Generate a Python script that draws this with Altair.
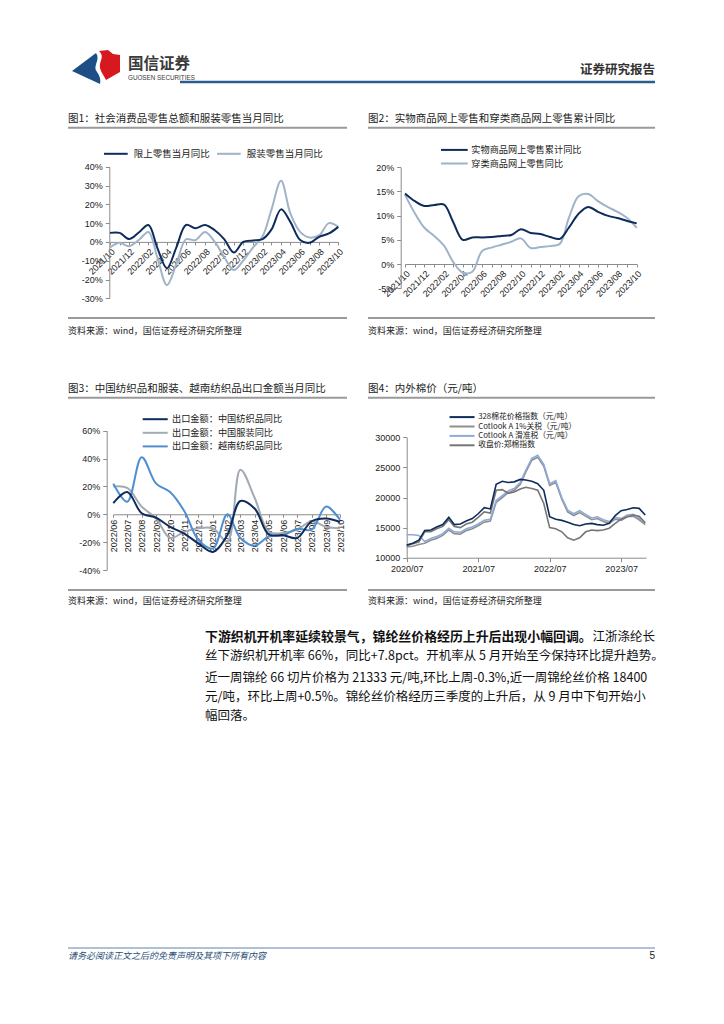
import altair as alt
import pandas as pd

W, H = 708, 1008


def X(v):
    return v - 8


def Y(v):
    return v - 8


CJK = "Noto Sans CJK SC"
LAT = "Liberation Sans, Noto Sans CJK SC"
NAVY = "#0d2c5b"

# ---------------- data ----------------
c1_dates = list(pd.date_range("2021-10-01", "2023-10-01", freq="MS").strftime("%Y/%m/%d"))
c1_names = ["限上零售当月同比", "服装零售当月同比"]
c1_xs = [4.8, 4.8, 1.5, 5.0, 9.0, -3.0, -14.0, -3.0, 9.0, 7.3, 9.0, 6.2, 1.5,
         -5.7, 0.0, 0.8, 1.5, 6.5, 17.3, 10.5, 1.0, -0.5, 2.7, 4.5, 8.0]
c1_fz = [-3.0, -0.5, -2.3, 1.0, 5.3, -8.0, -23.0, -12.0, 1.4, 0.9, 5.3, 0.0, -8.0,
         -15.0, -10.0, -3.0, 3.0, 17.0, 32.5, 15.0, 5.3, 2.3, 3.6, 10.0, 8.0]

c2_dates = list(pd.date_range("2021-10-01", "2023-10-01", freq="MS").strftime("%Y/%m/%d"))
c2_names = ["实物商品网上零售累计同比", "穿类商品网上零售同比"]
c2_sw = [14.6, 13.0, 12.0, 12.2, 12.3, 8.8, 5.0, 5.5, 5.5, 5.6, 5.8, 6.0, 7.2,
         6.4, 6.2, 5.6, 5.2, 7.5, 10.4, 11.8, 10.8, 10.0, 9.5, 8.9, 8.4]
c2_cl = [14.3, 10.5, 7.5, 5.8, 3.8, 0.5, -1.8, -1.6, 2.7, 3.4, 4.0, 4.6, 5.3,
         3.3, 3.5, 3.7, 4.2, 9.5, 14.0, 14.5, 13.0, 11.8, 10.8, 9.5, 7.5]

c3_dates = list(pd.date_range("2022-06-01", "2023-10-01", freq="MS").strftime("%Y/%m/%d"))
c3_names = ["出口金额：中国纺织品同比", "出口金额：中国服装同比", "出口金额：越南纺织品同比"]
c3_tex = [8, 16, 0.7, -2.5, -9, -14, -21, -27, -15, 9.5, 4, -14.5, -15, -17, -5, -3, -5.5]
c3_app = [20, 19, 5.5, -3, -17, -12.5, -10, -10, -19.5, 32, 11.5, -12.5, -13.5, -11, -5, -9, -10]
c3_vn = [22, 9, 41, 22, 16, 2, -18.5, -24.5, 0, -17, -22.5, -16, -15, -10.5, -11, 5.5, -4]

c4_dates = list(pd.date_range("2020-07-01", "2023-11-01", freq="MS").strftime("%Y/%m/%d"))
c4_names = ["328棉花价格指数（元/吨）", "Cotlook A 1%关税（元/吨）", "Cotlook A 滑准税（元/吨）", "收盘价:郑棉指数"]
c4_328 = [12100, 12400, 12900, 14500, 14600, 15100, 15500, 16700, 15500, 15600, 16100, 16500,
          17300, 18300, 18100, 22200, 22700, 22500, 22600, 23000, 22900, 22700, 22300, 21200,
          16800, 16400, 16200, 15900, 15500, 15300, 15600, 15700, 15500, 15400, 15700, 17000,
          17800, 18000, 18300, 18200, 17100]
c4_1pct = [11800, 11900, 12200, 12400, 12900, 13200, 13700, 14600, 14000, 13900, 14500, 14800,
           15300, 15900, 16100, 19200, 20000, 20800, 21200, 22200, 24200, 26200, 26700, 25200,
           22000, 22500, 19700, 17600, 17000, 17500, 16900, 16300, 16500, 16000, 15700, 16400,
           16200, 16800, 16900, 16300, 15500]
c4_slide = [13800, 13800, 13700, 12700, 13200, 13500, 14000, 14900, 14300, 14200, 14800, 15100,
            15600, 16200, 16400, 19500, 20300, 21100, 21500, 22500, 24500, 26500, 27000, 25500,
            22300, 22800, 20000, 17900, 17300, 17800, 17200, 16600, 16800, 16300, 16000, 16700,
            16500, 17100, 17200, 16600, 15800]
c4_zce = [12000, 12300, 12600, 14300, 14300, 14800, 15200, 16300, 15200, 15000, 15600, 15900,
          16700, 17600, 17400, 21200, 21300, 20700, 20900, 21400, 21700, 21500, 21200, 19000,
          15000, 14800, 14300, 13300, 12900, 13300, 14300, 14600, 14500, 14600, 14900, 15700,
          16400, 16800, 17100, 16900, 15800]


def long(dates, pairs):
    rows = []
    for name, vals in pairs:
        for d, v in zip(dates, vals):
            rows.append({"date": d, "series": name, "value": v})
    return pd.DataFrame(rows)


df1 = long(c1_dates, [(c1_names[1], c1_fz), (c1_names[0], c1_xs)])
df2 = long(c2_dates, [(c2_names[1], c2_cl), (c2_names[0], c2_sw)])
df3 = long(c3_dates, [(c3_names[1], c3_app), (c3_names[2], c3_vn), (c3_names[0], c3_tex)])
df4 = long(c4_dates, [(c4_names[1], c4_1pct), (c4_names[2], c4_slide), (c4_names[3], c4_zce), (c4_names[0], c4_328)])


def dt(s):
    y, m, d = [int(p) for p in s.split("/")]
    return alt.DateTime(year=y, month=m, date=d)


ax = dict(domainColor="#8c8c8c", tickColor="#8c8c8c", labelColor="#222222",
          labelFont=LAT, labelFontSize=9, grid=False, labelFlush=False,
          labelOverlap=False, labelBound=False, domainWidth=1, tickWidth=1)


def leg(line_x0, line_len, label_x, y_first, font, sym_px=8, cols=1,
        direction="vertical", colpad=10, rowpad=0, stroke=2, dy=0):
    r = sym_px / 2.0
    half = line_len / 2.0 / r
    path = f"M{-half:.3f},0L{half:.3f},0"
    center = line_x0 + line_len / 2.0
    lx = center - r
    loff = label_x - (lx + sym_px)
    ly = y_first - max(sym_px, font) / 2.0 + dy
    return alt.Legend(orient="none", legendX=X(lx), legendY=Y(ly), direction=direction,
                      columns=cols, symbolType=path, symbolSize=sym_px * sym_px,
                      symbolStrokeWidth=stroke, labelFont=CJK, labelFontSize=font,
                      labelColor="#222222", title=None, padding=0, columnPadding=colpad,
                      rowPadding=rowpad, labelOffset=loff)


def ypix(v, dmin, dmax, pbot, ptop):
    return pbot + (v - dmin) / (dmax - dmin) * (ptop - pbot)


# ---------------- chart 1 ----------------
z1 = ypix(0, -30, 40, 298.3, 166.7)
ch1 = alt.Chart(df1).mark_line(interpolate="catmull-rom", strokeWidth=2).encode(
    x=alt.X("date:T", title=None,
            scale=alt.Scale(domain=[dt(c1_dates[0]), dt(c1_dates[-1])], range=[X(110), X(338.3)]),
            axis=alt.Axis(orient="bottom", offset=Y(z1) - H, values=[dt(d) for d in c1_dates],
                          labelExpr="month(datum.value) % 2 == 1 ? timeFormat(datum.value, '%Y/%m') : ''",
                          labelAngle=-45, tickSize=3, labelPadding=2, **ax)),
    y=alt.Y("value:Q", title=None,
            scale=alt.Scale(domain=[-30, 40], range=[Y(298.3), Y(166.7)], nice=False, zero=False),
            axis=alt.Axis(orient="left", offset=-X(109.3), values=list(range(-30, 41, 10)),
                          labelExpr="datum.value + '%'", tickSize=4, labelPadding=3, **ax)),
    color=alt.Color("series:N", scale=alt.Scale(domain=c1_names, range=[NAVY, "#9fb3c9"]),
                    legend=leg(103, 23.7, 131.7, 153.3, 9.5, cols=2, direction="horizontal", colpad=3)),
)

# ---------------- chart 2 ----------------
ch2 = alt.Chart(df2).mark_line(interpolate="catmull-rom", strokeWidth=2).encode(
    x=alt.X("date:T", title=None,
            scale=alt.Scale(domain=[dt(c2_dates[0]), dt(c2_dates[-1])], range=[X(405), X(636.7)]),
            axis=alt.Axis(orient="bottom", offset=Y(264) - H, values=[dt(d) for d in c2_dates],
                          labelExpr="month(datum.value) % 2 == 1 ? timeFormat(datum.value, '%Y/%m') : ''",
                          labelAngle=-45, tickSize=3, labelPadding=2, **ax)),
    y=alt.Y("value:Q", title=None,
            scale=alt.Scale(domain=[-5, 20], range=[Y(288.2), Y(167.3)], nice=False, zero=False),
            axis=alt.Axis(orient="left", offset=-X(400.7), values=list(range(-5, 21, 5)),
                          labelExpr="datum.value + '%'", tickSize=4, labelPadding=3, **ax)),
    color=alt.Color("series:N", scale=alt.Scale(domain=c2_names, range=[NAVY, "#9fb3c9"]),
                    legend=leg(440, 26.7, 469.3, 147.7, 9.2, rowpad=2.6, dy=1.8)),
)

# ---------------- chart 3 ----------------
z3 = ypix(0, -40, 60, 570, 430.7)
ch3 = alt.Chart(df3).mark_line(interpolate="catmull-rom", strokeWidth=2).encode(
    x=alt.X("date:T", title=None,
            scale=alt.Scale(domain=[dt(c3_dates[0]), dt(c3_dates[-1])], range=[X(113.3), X(340)]),
            axis=alt.Axis(orient="bottom", offset=Y(z3) - H, values=[dt(d) for d in c3_dates],
                          format="%Y/%m", labelAngle=-90, tickSize=3, labelPadding=2, **ax)),
    y=alt.Y("value:Q", title=None,
            scale=alt.Scale(domain=[-40, 60], range=[Y(570), Y(430.7)], nice=False, zero=False),
            axis=alt.Axis(orient="left", offset=-X(106.7), values=list(range(-40, 61, 20)),
                          labelExpr="datum.value + '%'", tickSize=4, labelPadding=3, **ax)),
    color=alt.Color("series:N", scale=alt.Scale(domain=c3_names, range=[NAVY, "#a2aab4", "#4f8fd0"]),
                    legend=leg(141.7, 25, 170, 417.3, 9.2, rowpad=2.6, dy=1.5)),
)

# ---------------- chart 4 ----------------
ch4 = alt.Chart(df4).mark_line(strokeWidth=1.6).encode(
    x=alt.X("date:T", title=None,
            scale=alt.Scale(domain=[dt("2020/07/01"), dt("2023/11/05")], range=[X(406.7), X(646)]),
            axis=alt.Axis(orient="bottom", offset=Y(557.7) - H,
                          values=[dt("2020/07/01"), dt("2021/07/01"), dt("2022/07/01"), dt("2023/07/01")],
                          format="%Y/%m", labelAngle=0, tickSize=4, labelPadding=3, **ax)),
    y=alt.Y("value:Q", title=None,
            scale=alt.Scale(domain=[10000, 30000], range=[Y(557.7), Y(437.3)], nice=False, zero=False),
            axis=alt.Axis(orient="left", offset=-X(406.7), values=list(range(10000, 30001, 5000)),
                          format="d", tickSize=4, labelPadding=3, **ax)),
    color=alt.Color("series:N", scale=alt.Scale(domain=c4_names, range=[NAVY, "#8f8f8f", "#8eaadb", "#767676"]),
                    legend=leg(448.3, 25, 475.7, 415, 7.8, sym_px=7.5, rowpad=0.4, dy=1)),
)

# ---------------- page furniture ----------------
one = pd.DataFrame({"k": [0]})


def txt(x, y, s, size=10, weight="normal", color="#222222", align="left", font=CJK, style="normal"):
    return alt.Chart(one).mark_text(fontSize=size, fontWeight=weight, color=color, align=align,
                                    font=font, baseline="middle", fontStyle=style).encode(
        x=alt.value(X(x)), y=alt.value(Y(y)), text=alt.value(s))


def hline(x1, x2, y, color, width):
    return alt.Chart(one).mark_rule(color=color, strokeWidth=width).encode(
        x=alt.value(X(x1)), x2=alt.value(X(x2)), y=alt.value(Y(y)))


def logo_path(cmds, cx, cy, r):
    out = []
    for c in cmds:
        if isinstance(c, str):
            out.append(c)
        else:
            out.append(f"{(c[0] - cx) / r:.3f},{(c[1] - cy) / r:.3f}")
    return " ".join(out)


blue_p = logo_path(["M", (72, 71), "L", (96, 53), "C", (101, 60), (92, 66), (97, 72),
                    "C", (100, 76), (101, 80), (100, 84), "Z"], 96, 66.5, 24)
red_p = logo_path(["M", (99, 51), "L", (108, 50), "L", (113, 54), "L", (120, 55), "L", (120, 72),
                   "L", (106, 80), "C", (103, 74), (99, 70), (100, 64), "C", (101, 59), (104, 56),
                   (99, 51), "Z"], 96, 66.5, 24)


def logo(path, color):
    return alt.Chart(one).mark_point(shape=path, size=2304, filled=True, color=color,
                                     opacity=1, strokeWidth=0).encode(
        x=alt.value(X(96)), y=alt.value(Y(66.5)))


furniture = [
    logo(blue_p, "#1d4f86"),
    logo(red_p, "#d7191f"),
    txt(128, 63.5, "国信证券", size=15.5, weight="bold", color="#3a3a3a"),
    txt(128, 78, "GUOSEN SECURITIES", size=6.3, color="#3a3a3a", font=LAT),
    txt(655, 70, "证券研究报告", size=12.5, weight="bold", color="#333333", align="right"),
    hline(180, 655, 82, "#2b5c8f", 2.5),
    # titles
    txt(68, 119, "图1：社会消费品零售总额和服装零售当月同比", size=10.5),
    txt(368, 119, "图2：实物商品网上零售和穿类商品网上零售累计同比", size=10.5),
    hline(68, 347, 127.7, "#9a9a9a", 2),
    hline(368, 655, 127.7, "#9a9a9a", 2),
    hline(68, 347, 318, "#9a9a9a", 2),
    hline(368, 655, 318, "#9a9a9a", 2),
    txt(68, 331, "资料来源：wind，国信证券经济研究所整理", size=9),
    txt(368, 331, "资料来源：wind，国信证券经济研究所整理", size=9),
    txt(68, 389, "图3：中国纺织品和服装、越南纺织品出口金额当月同比", size=10.5),
    txt(368, 389, "图4：内外棉价（元/吨）", size=10.5),
    hline(68, 347, 397.7, "#9a9a9a", 2),
    hline(368, 655, 397.7, "#9a9a9a", 2),
    hline(68, 347, 590, "#9a9a9a", 2),
    hline(368, 655, 590, "#9a9a9a", 2),
    txt(68, 601, "资料来源：wind，国信证券经济研究所整理", size=9),
    txt(368, 601, "资料来源：wind，国信证券经济研究所整理", size=9),
    # body text
    txt(205, 637, "下游织机开机率延续较景气，锦纶丝价格经历上升后出现小幅回调。", size=12.9, weight="bold", color="#111111"),
    txt(655, 637, "江浙涤纶长", size=12.5, color="#111111", align="right"),
    txt(205, 656, "丝下游织机开机率 66%，同比+7.8pct。开机率从 5 月开始至今保持环比提升趋势。", size=12.5, color="#111111"),
    txt(205, 678, "近一周锦纶 66 切片价格为 21333 元/吨,环比上周-0.3%,近一周锦纶丝价格 18400", size=12.5, color="#111111"),
    txt(205, 697, "元/吨，环比上周+0.5%。锦纶丝价格经历三季度的上升后，从 9 月中下旬开始小", size=12.5, color="#111111"),
    txt(205, 716, "幅回落。", size=12.5, color="#111111"),
    # footer
    hline(68, 655, 948, "#5f83ad", 1),
    txt(68, 956, "请务必阅读正文之后的免责声明及其项下所有内容", size=9, color="#1f4e79", style="italic"),
    txt(655, 956, "5", size=10, color="#222222", align="right", font=LAT),
]

chart = alt.layer(*furniture, ch1, ch2, ch3, ch4).resolve_scale(
    x="independent", y="independent", color="independent"
).resolve_axis(x="independent", y="independent").resolve_legend(color="independent").properties(
    width=W, height=H, autosize=alt.AutoSizeParams(type="none"), padding=0, background="white"
).configure_view(strokeWidth=0)

chart.save("out.html", embed_options={"renderer": "svg", "actions": False})
